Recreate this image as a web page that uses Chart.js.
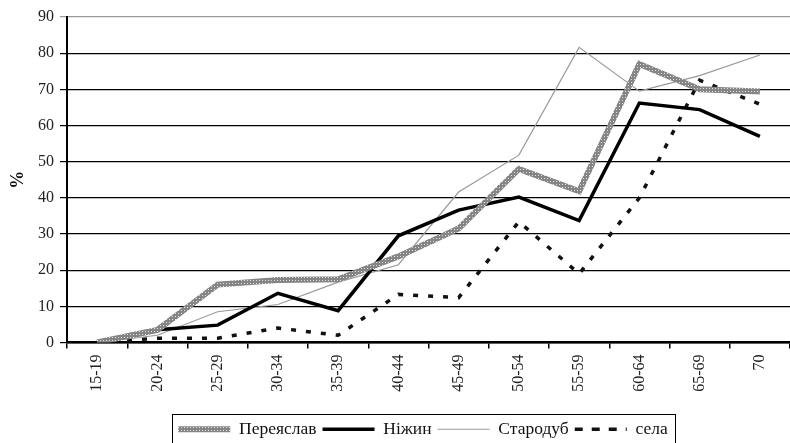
<!DOCTYPE html>
<html>
<head>
<meta charset="utf-8">
<script src="https://cdn.jsdelivr.net/npm/chart.js@4/dist/chart.umd.min.js"></script>
<style>
  html, body { margin: 0; padding: 0; background: #fff; }
  #wrap { width: 790px; height: 443px; }
</style>
</head>
<body>
<div id="wrap"><canvas id="ageChart"></canvas></div>
<script>
var ageGroups = ["15-19", "20-24", "25-29", "30-34", "35-39", "40-44", "45-49", "50-54", "55-59", "60-64", "65-69", "70"];
var pereiaslavValues = [0, 3.5, 16, 17.3, 17.5, 23.8, 31.5, 48, 41.8, 77, 70, 69.4];
var nizhynValues = [0, 3.5, 4.8, 13.6, 8.8, 29.5, 36.6, 40.2, 33.7, 66.2, 64.4, 57];
var starodubValues = [0, 2, 8.5, 10.5, 16.7, 21.5, 41.6, 51.8, 81.6, 69.5, 73.8, 79.5];
var selaValues = [0, 1.2, 1.2, 4, 2, 13.3, 12.4, 33.4, 19, 40, 72.5, 65.9];
var yTicks = [0, 10, 20, 30, 40, 50, 60, 70, 80, 90];

var serif = "'Liberation Serif', 'DejaVu Serif', serif";

// hatched grey stroke for Переяслав
var tile = document.createElement('canvas');
tile.width = 3;
tile.height = 3;
var tctx = tile.getContext('2d');
tctx.fillStyle = '#858585';
tctx.fillRect(0, 0, 3, 3);
tctx.fillStyle = '#e2e2e2';
tctx.fillRect(1, 1, 1, 1);
var hatch = tctx.createPattern(tile, 'repeat');

// legend sits a little right of centre and low in the original, with a frame round it
var legendBox = {
    id: 'legendBox',
    afterLayout: function (chart) {
        chart.legend.left += 28;
        chart.legend.right += 28;
        chart.legend.top += 5;
        chart.legend.bottom += 5;
    },
    afterDraw: function (chart) {
        var lg = chart.legend;
        var boxes = lg.legendHitBoxes;
        if (!boxes || !boxes.length) return;
        var left = Math.min.apply(null, boxes.map(b => b.left)) - 6;
        var right = Math.max.apply(null, boxes.map(b => b.left + b.width)) + 8;
        var ctx = chart.ctx;
        ctx.save();
        ctx.strokeStyle = '#000';
        ctx.lineWidth = 1;
        ctx.strokeRect(Math.round(left) + 0.5, Math.round(lg.top) - 0.5, Math.round(right - left), lg.height + 10);
        ctx.restore();
    }
};

new Chart("ageChart", {
    type: "line",
    data: {
        labels: ageGroups,
        datasets: [{
            label: "Переяслав",
            data: pereiaslavValues,
            borderColor: hatch,
            backgroundColor: hatch,
            borderWidth: 6
        }, {
            label: "Ніжин",
            data: nizhynValues,
            borderColor: "#000",
            backgroundColor: "#000",
            borderWidth: 3.5
        }, {
            label: "Стародуб",
            data: starodubValues,
            borderColor: "#9a9a9a",
            backgroundColor: "#9a9a9a",
            borderWidth: 1.2
        }, {
            label: "села",
            data: selaValues,
            borderColor: "#111",
            backgroundColor: "#111",
            borderWidth: 3.5,
            borderDash: [5, 10]
        }]
    },
    options: {
        responsive: true,
        maintainAspectRatio: false,
        animation: false,
        elements: {
            point: { radius: 0, hoverRadius: 0 },
            line: { tension: 0, borderJoinStyle: 'miter', fill: false }
        },
        layout: { padding: { top: 17, right: 0, bottom: 0, left: 0 } },
        plugins: {
            tooltip: { enabled: false },
            legend: {
                position: 'bottom',
                labels: {
                    usePointStyle: true,
                    pointStyle: 'line',
                    pointStyleWidth: 52,
                    padding: 6,
                    color: '#111',
                    font: { family: serif, size: 17.5 },
                    generateLabels: function (chart) {
                        var items = Chart.defaults.plugins.legend.labels.generateLabels(chart);
                        items.forEach(function (it, i) {
                            var ds = chart.data.datasets[i];
                            it.lineWidth = ds.borderWidth;
                            it.strokeStyle = ds.borderColor;
                            it.lineDash = ds.borderDash ? [8, 9] : [];
                        });
                        return items;
                    }
                }
            }
        },
        scales: {
            x: {
                offset: true,
                afterFit: function (scale) { scale.height = 67; },
                border: { display: true, color: '#000', width: 2.5 },
                grid: {
                    offset: true,
                    drawOnChartArea: false,
                    drawTicks: true,
                    tickLength: 6,
                    color: '#000',
                    lineWidth: 1.5
                },
                ticks: {
                    minRotation: 90,
                    maxRotation: 90,
                    autoSkip: false,
                    padding: 6,
                    color: '#222',
                    font: { family: serif, size: 16 }
                }
            },
            y: {
                min: 0,
                max: 90,
                afterFit: function (scale) { scale.width = 67; },
                afterBuildTicks: function (scale) {
                    scale.ticks = yTicks.map(v => ({ value: v }));
                },
                border: { display: true, color: '#000', width: 2 },
                grid: {
                    color: ctx => (ctx.tick && ctx.tick.value === 90) ? '#9a9a9a' : '#000',
                    lineWidth: 1.2,
                    tickLength: 7
                },
                ticks: {
                    padding: 6,
                    color: '#222',
                    font: { family: serif, size: 16 }
                },
                title: {
                    display: true,
                    text: '%',
                    color: '#111',
                    padding: { top: 8, bottom: 0 },
                    font: { family: serif, size: 18, weight: 'bold' }
                }
            }
        }
    },
    plugins: [legendBox]
});
</script>
</body>
</html>
